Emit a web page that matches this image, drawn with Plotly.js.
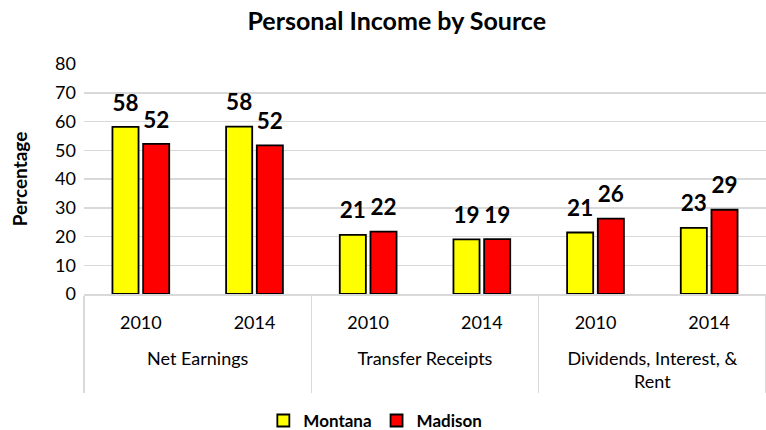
<!DOCTYPE html>
<html>
<head>
<meta charset="utf-8">
<script src="https://cdn.plot.ly/plotly-3.0.1.min.js"></script>
<style>html,body{margin:0;padding:0;background:#fff;}#chart{width:766px;height:430px;}</style>
</head>
<body>
<div id="chart"></div>
<script>
const groups = ["Net Earnings", "Net Earnings", "Transfer Receipts", "Transfer Receipts", "Dividends, Interest, &<br>Rent", "Dividends, Interest, &<br>Rent"];
const years = ["2010", "2014", "2010", "2014", "2010", "2014"];
const montana = [58.1, 58.2, 20.6, 19.0, 21.4, 23.0];
const madison = [52.2, 51.7, 21.7, 19.1, 26.2, 29.3];

const FONT = "Lato, 'Open Sans', sans-serif";
function labels(vals) {
  return vals.map(v => "<span style='font-size:23px'>" + Math.round(v) + "</span><br> ");
}
const common = {
  type: "bar",
  x: [groups.map(g => "<br>" + g), years],
  textposition: "outside",
  cliponaxis: false,
  textfont: {family: FONT, size: 9, color: "#000", weight: "bold"},
  hoverinfo: "skip"
};
const traces = [
  Object.assign({}, common, {name: "Montana", y: montana, text: labels(montana), marker: {color: "#ffff00", line: {color: "#000", width: 1.8}}}),
  Object.assign({}, common, {name: "Madison", y: madison, text: labels(madison), marker: {color: "#ff0000", line: {color: "#000", width: 1.8}}})
];
const layout = {
  width: 766, height: 430,
  margin: {l: 84, r: 0, t: 64, b: 136, autoexpand: false},
  paper_bgcolor: "#fff", plot_bgcolor: "#fff",
  font: {family: FONT, color: "#000"},
  title: {text: "<b>Personal Income by Source</b>", x: 0.518, xanchor: "center", y: 0.95, yanchor: "middle", font: {family: FONT, size: 25, color: "#000"}},
  barmode: "group",
  bargap: 0.46,
  bargroupgap: 0.15,
  showlegend: true,
  legend: {orientation: "h", xref: "container", yref: "container", x: 0.49, xanchor: "center", y: 0.021, yanchor: "middle", font: {family: FONT, size: 17, color: "#000", weight: "bold"}, traceorder: "normal"},
  xaxis: {
    type: "multicategory",
    automargin: false,
    tickangle: 0,
    showline: true, linecolor: "#d9d9d9", linewidth: 1.5,
    showdividers: true, dividercolor: "#d9d9d9", dividerwidth: 1.5,
    tickfont: {family: FONT, size: 18, color: "#000"},
    ticklabelstandoff: 12,
    ticks: "", showgrid: false
  },
  yaxis: {
    range: [0, 80], dtick: 10,
    automargin: false,
    showgrid: true, gridcolor: "#d9d9d9", gridwidth: 1.5,
    zeroline: false,
    tickfont: {family: FONT, size: 18, color: "#000"},
    ticklabelstandoff: 7,
    title: {text: "<b>Percentage</b>", font: {family: FONT, size: 19, color: "#000"}, standoff: 22}
  }
};
Plotly.newPlot("chart", traces, layout, {displayModeBar: false, staticPlot: true});
</script>
</body>
</html>
